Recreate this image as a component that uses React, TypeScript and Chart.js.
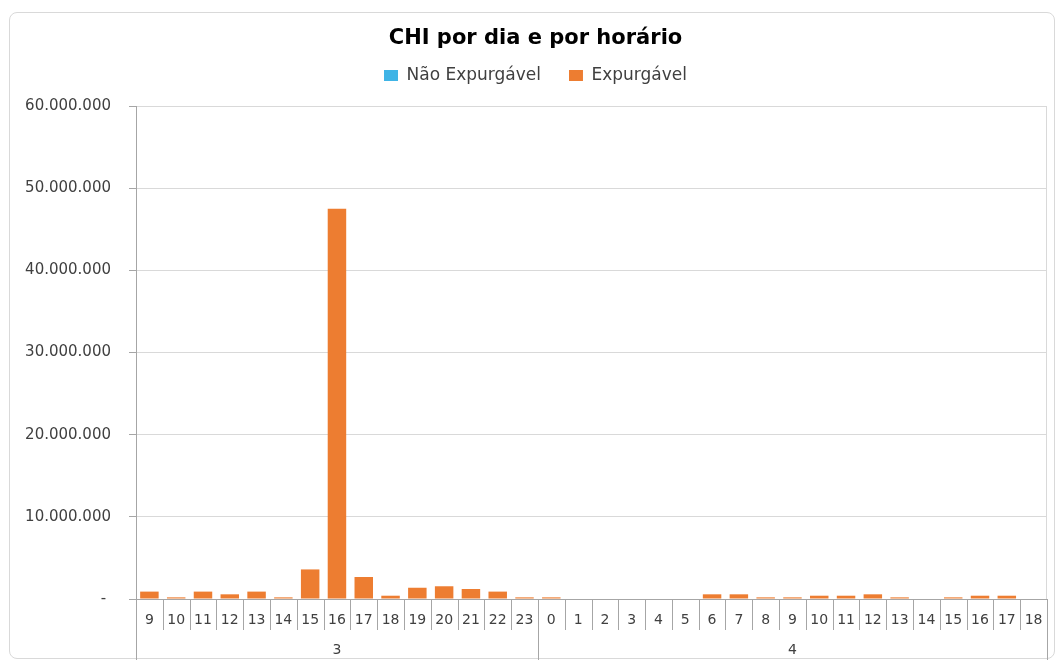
import React, { useEffect, useRef } from "react";
import { Chart, registerables } from "chart.js";

Chart.register(...registerables);

const chartTitle = "CHI por dia e por horário";
const seriesNames = ["Não Expurgável", "Expurgável"];
const seriesColors = ["#3FB4E6", "#ED7D31"];

const hourLabels = [
  "9", "10", "11", "12", "13", "14", "15", "16", "17", "18", "19", "20", "21", "22", "23",
  "0", "1", "2", "3", "4", "5", "6", "7", "8", "9", "10", "11", "12", "13", "14", "15", "16", "17", "18",
];
const dayLabels = ["3", "4"];
const dayCounts = [15, 19];

const naoExpurgavel = [
  0, 0, 0, 0, 0, 0, 0, 0, 0, 0, 0, 0, 0, 0, 0,
  0, 0, 0, 0, 0, 0, 0, 0, 0, 0, 0, 0, 0, 0, 0, 0, 0, 0, 0,
];
const expurgavel = [
  900000, 200000, 900000, 570000, 900000, 200000, 3600000, 47500000, 2680000, 400000, 1370000, 1550000, 1220000, 900000, 200000,
  200000, 0, 0, 0, 0, 0, 570000, 570000, 200000, 200000, 400000, 400000, 570000, 200000, 0, 200000, 400000, 400000, 0,
];

const yMax = 60000000;
const yStep = 10000000;

function formatNumber(v: number): string {
  if (v === 0) return "- ";
  return String(Math.round(v)).replace(/\B(?=(\d{3})+(?!\d))/g, ".");
}

const axisGray = "#a6a6a6";
const gridGray = "#d9d9d9";
const textGray = "#404040";
const fontFamily = "'DejaVu Sans'";

const categoryAxisPlugin = {
  id: "categoryAxis",
  afterDraw(chart: any) {
    const xs = chart.scales.x;
    const area = chart.chartArea;
    const ctx = chart.ctx;
    const n = hourLabels.length;
    const step = xs.getPixelForValue(1) - xs.getPixelForValue(0);
    const H = chart.height;
    ctx.save();
    ctx.lineWidth = 1;
    // right border of plot area
    const rx = Math.round(area.right) - 0.5;
    ctx.strokeStyle = gridGray;
    ctx.beginPath();
    ctx.moveTo(rx, area.top);
    ctx.lineTo(rx, area.bottom);
    ctx.stroke();

    const groupBounds = new Set<number>();
    let acc = 0;
    groupBounds.add(0);
    dayCounts.forEach((c) => {
      acc += c;
      groupBounds.add(acc);
    });

    ctx.strokeStyle = axisGray;
    for (let i = 0; i <= n; i++) {
      const px = i < n ? xs.getPixelForValue(i) - step / 2 : xs.getPixelForValue(n - 1) + step / 2;
      const bx = Math.round(px) + 0.5;
      const isGroup = groupBounds.has(i);
      ctx.beginPath();
      ctx.moveTo(bx, area.bottom);
      ctx.lineTo(bx, isGroup ? H : area.bottom + 31);
      ctx.stroke();
    }

    ctx.fillStyle = textGray;
    ctx.textAlign = "center";
    ctx.textBaseline = "middle";
    ctx.font = "14px " + fontFamily;
    for (let i = 0; i < n; i++) {
      ctx.fillText(hourLabels[i], xs.getPixelForValue(i), area.bottom + 21);
    }
    let start = 0;
    dayLabels.forEach((d, gi) => {
      const end = start + dayCounts[gi] - 1;
      const cx = (xs.getPixelForValue(start) + xs.getPixelForValue(end)) / 2;
      ctx.fillText(d, cx, area.bottom + 51);
      start += dayCounts[gi];
    });
    ctx.restore();
  },
};

export default function App() {
  const canvasRef = useRef<HTMLCanvasElement | null>(null);

  useEffect(() => {
    if (!canvasRef.current) return;
    const chart = new Chart(canvasRef.current, {
      type: "bar",
      data: {
        labels: hourLabels,
        datasets: [
          {
            label: seriesNames[0],
            data: naoExpurgavel,
            backgroundColor: seriesColors[0],
            borderWidth: 0,
          },
          {
            label: seriesNames[1],
            data: expurgavel,
            backgroundColor: seriesColors[1],
            borderWidth: 0,
          },
        ],
      },
      options: {
        animation: false,
        responsive: false,
        devicePixelRatio: 1,
        layout: { padding: { left: 24, right: 11, top: 0, bottom: 0 } },
        datasets: {
          bar: { categoryPercentage: 1, barPercentage: 0.69 },
        },
        plugins: {
          title: {
            display: true,
            text: chartTitle,
            color: "#000000",
            font: { family: fontFamily, size: 21, weight: "bold", lineHeight: "1px" },
            padding: { top: 38, bottom: 0 },
          },
          legend: {
            display: true,
            position: "top",
            labels: {
              boxWidth: 14,
              boxHeight: 11,
              padding: 28,
              color: textGray,
              font: { family: fontFamily, size: 17 },
            },
          },
          subtitle: {
            display: true,
            text: "",
            weight: 500,
            font: { size: 2, lineHeight: "2px" },
            padding: { top: 10, bottom: 0 },
          },
          tooltip: { enabled: false },
        },
        scales: {
          x: {
            type: "category",
            stacked: true,
            grid: { display: false },
            border: { display: true, color: axisGray, width: 1 },
            ticks: { display: false },
            afterFit: (scale: any) => {
              scale.height = 61;
            },
          },
          y: {
            stacked: true,
            min: 0,
            max: yMax,
            grid: { color: gridGray, tickColor: axisGray, tickLength: 7, lineWidth: 1 },
            border: { display: true, color: axisGray, width: 1 },
            ticks: {
              stepSize: yStep,
              padding: 18,
              color: textGray,
              font: { family: fontFamily, size: 15 },
              callback: (v: any) => formatNumber(Number(v)),
            },
            afterFit: (scale: any) => {
              scale.width = 112;
            },
          },
        },
      } as any,
      plugins: [categoryAxisPlugin],
    });
    return () => chart.destroy();
  }, []);

  return (
    <div style={{ position: "absolute", left: 0, top: 0, width: 1058, height: 660, overflow: "hidden", background: "#fff" }}>
      <div
        style={{
          position: "absolute",
          left: 9,
          top: 12,
          width: 1046,
          height: 647,
          boxSizing: "border-box",
          border: "1px solid #d9d9d9",
          borderRadius: 8,
        }}
      />
      <canvas ref={canvasRef} width={1058} height={660} style={{ position: "absolute", left: 0, top: 0, width: 1058, height: 660 }} />
    </div>
  );
}
